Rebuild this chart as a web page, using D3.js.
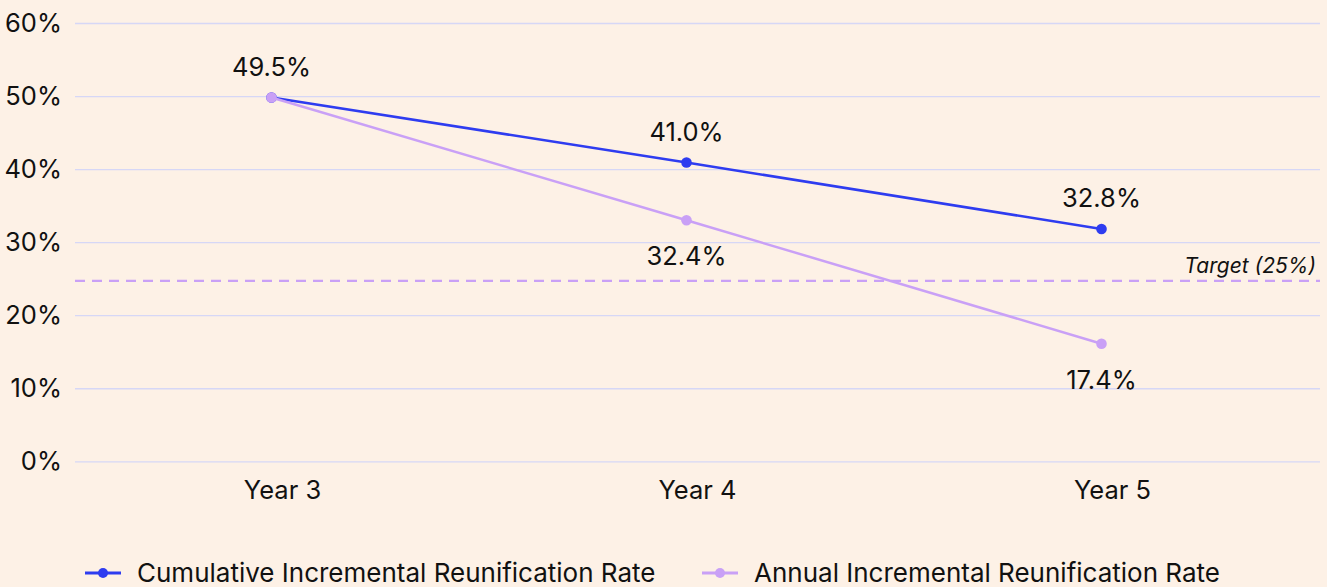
<!DOCTYPE html>
<html>
<head>
<meta charset="utf-8">
<script src="https://cdn.jsdelivr.net/npm/d3@7"></script>
<style>
  html, body { margin: 0; padding: 0; background: #fdf1e6; }
  svg { display: block; font-family: Inter, "Noto Sans", sans-serif; }
</style>
</head>
<body>
<div id="viz"></div>
<script>
const years = ["Year 3", "Year 4", "Year 5"];
const cumulativeValues = [49.8, 40.9, 31.8];
const cumulativeLabels = ["49.5%", "41.0%", "32.8%"];
const annualValues = [49.8, 33.0, 16.1];
const annualLabels = ["", "32.4%", "17.4%"];
const yTicks = [0, 10, 20, 30, 40, 50, 60];
const targetValue = 24.7;
const targetLabel = "Target (25%)";

const series = [
  { name: "Cumulative Incremental Reunification Rate", values: cumulativeValues, labels: cumulativeLabels, color: "#2e3cf0", labelDy: -22 },
  { name: "Annual Incremental Reunification Rate", values: annualValues, labels: annualLabels, color: "#c9a0f6", labelDy: 45 }
];

const width = 1327, height = 587;
const plotLeft = 75, plotRight = 1320, plotTop = 23, plotBottom = 461.3;
const fontSize = "25.5px";

const svg = d3.select("#viz").append("svg")
  .attr("width", width)
  .attr("height", height);

svg.append("rect").attr("width", width).attr("height", height).attr("fill", "#fdf1e6");

const x = d3.scaleBand().domain(years).range([plotLeft, plotRight]);
const y = d3.scaleLinear().domain([0, 60]).range([plotBottom, plotTop]);
const pointX = d => x(d) + x.bandwidth() / 2 - 11;

// grid + y labels
const yAxis = svg.append("g")
  .attr("transform", `translate(${plotLeft},0)`)
  .call(d3.axisLeft(y).tickValues(yTicks).tickFormat(d => d + "%")
    .tickSize(-(plotRight - plotLeft)).tickPadding(13));
yAxis.select(".domain").remove();
yAxis.selectAll(".tick line").attr("stroke", "#d6d7f6").attr("stroke-width", 1.3);
yAxis.selectAll(".tick text")
  .attr("fill", "#111")
  .style("font-size", fontSize)
  .style("font-family", "Inter, sans-serif");

// x labels
svg.append("g").selectAll("text")
  .data(years)
  .join("text")
  .attr("x", d => x(d) + x.bandwidth() / 2)
  .attr("y", 499)
  .attr("text-anchor", "middle")
  .attr("fill", "#111")
  .style("font-size", fontSize)
  .text(d => d);

// target line
svg.append("line")
  .attr("x1", plotLeft).attr("x2", plotRight)
  .attr("y1", y(targetValue)).attr("y2", y(targetValue))
  .attr("stroke", "#c9a0f6")
  .attr("stroke-width", 2.2)
  .attr("stroke-dasharray", "10,7");

svg.append("text")
  .attr("x", 1316)
  .attr("y", y(targetValue) - 8)
  .attr("text-anchor", "end")
  .attr("fill", "#111")
  .style("font-size", "21px")
  .style("font-style", "italic")
  .text(targetLabel);

const line = d3.line()
  .x((d, i) => pointX(years[i]))
  .y(d => y(d));

series.forEach(s => {
  const g = svg.append("g");
  g.append("path")
    .datum(s.values)
    .attr("fill", "none")
    .attr("stroke", s.color)
    .attr("stroke-width", 2.5)
    .attr("d", line);
  g.selectAll("circle")
    .data(s.values)
    .join("circle")
    .attr("cx", (d, i) => pointX(years[i]))
    .attr("cy", d => y(d))
    .attr("r", 5.3)
    .attr("fill", s.color);
});

series.forEach(s => {
  svg.append("g").selectAll("text")
    .data(s.values)
    .join("text")
    .attr("x", (d, i) => pointX(years[i]))
    .attr("y", d => y(d) + s.labelDy)
    .attr("text-anchor", "middle")
    .attr("fill", "#111")
    .style("font-size", fontSize)
    .text((d, i) => s.labels[i]);
});

// legend
const legendX = [85, 702];
const legend = svg.append("g");
series.forEach((s, i) => {
  const lg = legend.append("g").attr("transform", `translate(${legendX[i]},573)`);
  lg.append("line").attr("x1", 0).attr("x2", 36).attr("stroke", s.color).attr("stroke-width", 3);
  lg.append("circle").attr("cx", 18).attr("r", 5).attr("fill", s.color);
  lg.append("text")
    .attr("x", 52)
    .attr("y", 9)
    .attr("fill", "#111")
    .style("font-size", "26px")
    .text(s.name);
});
</script>
</body>
</html>
